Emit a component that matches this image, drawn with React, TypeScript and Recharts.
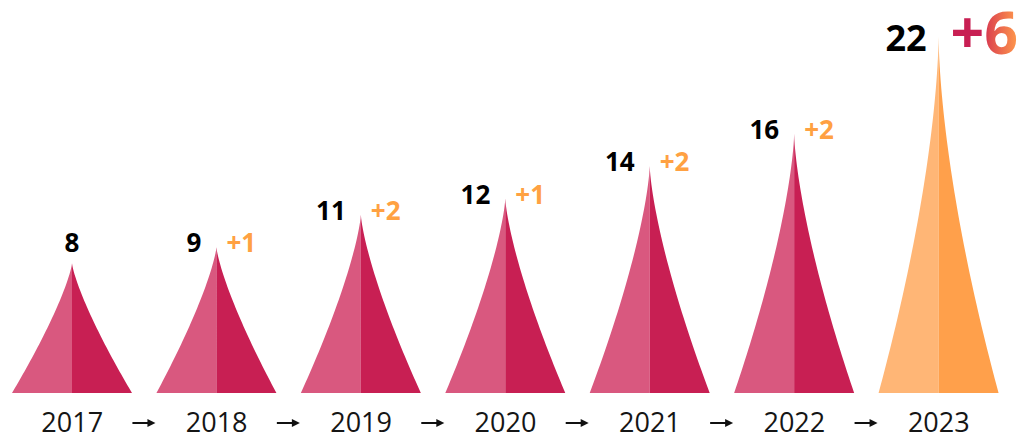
import React from 'react';
import { BarChart, Bar, XAxis, YAxis, LabelList } from 'recharts';

const years = ['2017', '2018', '2019', '2020', '2021', '2022', '2023'];
const counts = [8, 9, 11, 12, 14, 16, 22];
const gains: (number | null)[] = [null, 1, 2, 1, 2, 2, 6];

const data = years.map((year, i) => ({ year, count: counts[i], gain: gains[i] }));

const WIDTH = 1025;
const HEIGHT = 439;
const MARGIN = { top: 4, right: 14, left: 0, bottom: 0 };
const STEP = (WIDTH - MARGIN.left - MARGIN.right) / years.length;
const FONT = '"Open Sans", "Noto Sans", sans-serif';

const PINK_LIGHT = '#d9587f';
const PINK_DARK = '#c81f53';
const ORANGE_LIGHT = '#ffb676';
const ORANGE_DARK = '#ffa04b';
const GAIN_COLOR = '#ffa142';

// concave spike, drawn as two halves with different shades
const SpikeShape = (props: any) => {
    const { x, y, width, height, index } = props;
    if (!height || height <= 0) return null;
    const cx = x + width / 2;
    const base = y + height;
    const half = width / 2;
    const p = 1.09 + height / 690;
    const n = 48;
    const leftPts: string[] = [];
    const rightPts: string[] = [];
    for (let i = 0; i <= n; i++) {
        const f = i / n;
        const hw = Math.pow(f, p) * half;
        const py = y + f * height;
        leftPts.push(`${cx - hw},${py}`);
        rightPts.push(`${cx + hw},${py}`);
    }
    const last = index === years.length - 1;
    return (
        <g>
            <path d={`M${leftPts.join(' L')} L${cx},${base} Z`} fill={last ? ORANGE_LIGHT : PINK_LIGHT} />
            <path d={`M${rightPts.join(' L')} L${cx},${base} Z`} fill={last ? ORANGE_DARK : PINK_DARK} />
        </g>
    );
};

const renderValueLabel = (props: any) => {
    const { x, y, width, value, index } = props;
    const cx = x + width / 2;
    const gain = gains[index];
    if (index === 0) {
        return (
            <text x={cx} y={y - 11} textAnchor="middle" fontSize={26} fontWeight={700} fill="#000" fontFamily={FONT}>
                {value}
            </text>
        );
    }
    const last = index === years.length - 1;
    if (last) {
        return (
            <g>
                <text x={cx - 12} y={y + 15} textAnchor="end" fontSize={36} fontWeight={700} fill="#000" fontFamily={FONT}>
                    {value}
                </text>
                <text x={cx + 12} y={y + 18} textAnchor="start" fontSize={59} fontWeight={700} fill="url(#gainGradient)" fontFamily={FONT}>
                    {`+${gain}`}
                </text>
            </g>
        );
    }
    return (
        <g>
            <text x={cx - 15} y={y + 5} textAnchor="end" fontSize={26} fontWeight={700} fill="#000" fontFamily={FONT}>
                {value}
            </text>
            <text x={cx + 10} y={y + 5} textAnchor="start" fontSize={26} fontWeight={700} fill={GAIN_COLOR} fontFamily={FONT}>
                {`+${gain}`}
            </text>
        </g>
    );
};

const YearTick = (props: any) => {
    const { x, y, payload, index } = props;
    const ax = x - STEP / 2;
    const ay = y + 22;
    return (
        <g>
            {index > 0 && (
                <g>
                    <rect x={ax - 12} y={ay - 1} width={16} height={2} fill="#111" />
                    <path d={`M${ax + 3},${ay - 4} L${ax + 11},${ay} L${ax + 3},${ay + 4} Z`} fill="#111" />
                </g>
            )}
            <text x={x} y={y + 31} textAnchor="middle" fontSize={27} fill="#151515" fontFamily={FONT}>
                {payload.value}
            </text>
        </g>
    );
};

export default function App() {
    return (
        <div style={{ width: WIDTH, height: HEIGHT, background: '#fff' }}>
            <style>{'body{margin:0}'}</style>
            <BarChart width={WIDTH} height={HEIGHT} data={data} margin={MARGIN}>
                <defs>
                    <linearGradient id="gainGradient" x1="0" y1="0" x2="1" y2="0">
                        <stop offset="0%" stopColor="#c81f53" />
                        <stop offset="45%" stopColor="#c81f53" />
                        <stop offset="58%" stopColor="#df4a4f" />
                        <stop offset="100%" stopColor="#ff9a4c" />
                    </linearGradient>
                </defs>
                <XAxis dataKey="year" axisLine={false} tickLine={false} height={46} interval={0} tick={<YearTick />} />
                <YAxis hide domain={[0, 24]} />
                <Bar dataKey="count" barSize={120} shape={<SpikeShape />} isAnimationActive={false}>
                    <LabelList dataKey="count" content={renderValueLabel} />
                </Bar>
            </BarChart>
        </div>
    );
}
